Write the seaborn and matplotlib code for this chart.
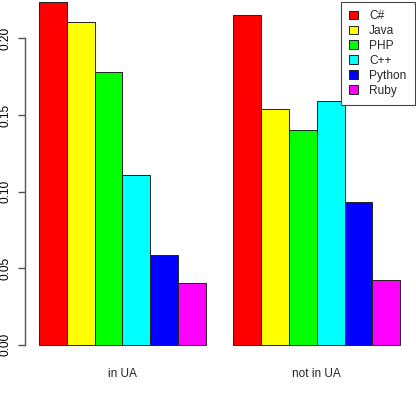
import matplotlib
matplotlib.use("Agg")
import matplotlib.pyplot as plt
import pandas as pd
import seaborn as sns

# ── Data ──────────────────────────────────────────────────────────────────────
groups    = ["in UA", "not in UA"]
languages = ["C#", "Java", "PHP", "C++", "Python", "Ruby"]
in_ua     = [0.224, 0.211, 0.178, 0.111, 0.0586, 0.0404]
not_in_ua = [0.215, 0.154, 0.1405, 0.1595, 0.0932, 0.0425]
colors    = ["#ff0000", "#ffff00", "#00ff00", "#00ffff", "#0000ff", "#ff00ff"]
y_ticks   = [0.00, 0.05, 0.10, 0.15, 0.20]

df = pd.DataFrame({
    "group":    [groups[0]] * len(languages) + [groups[1]] * len(languages),
    "language": languages * 2,
    "share":    in_ua + not_in_ua,
})

# ── Plot ──────────────────────────────────────────────────────────────────────
sns.set_style("white")
plt.rcParams["font.family"] = ["Liberation Sans", "DejaVu Sans"]

fig = plt.figure(figsize=(4.16, 3.96), dpi=100)
ax = fig.add_axes([24.6 / 416, 38 / 396, (414.5 - 24.6) / 416, (394.3 - 38) / 396])

sns.barplot(data=df, x="group", y="share", hue="language", order=groups,
            hue_order=languages, palette=colors, width=6 / 7, saturation=1,
            edgecolor="#222222", linewidth=0.7, ax=ax, legend=True)

ax.set_xlim(-0.503, 1.503)
ax.set_ylim(-0.0086, 0.224)

for s in ["top", "right", "bottom"]:
    ax.spines[s].set_visible(False)
ax.spines["left"].set_bounds(0, 0.20)
ax.spines["left"].set_color("#555555")
ax.spines["left"].set_linewidth(1.0)

ax.set_yticks(y_ticks)
ax.set_yticklabels([f"{v:.2f}" for v in y_ticks], rotation=90, va="center")
ax.tick_params(axis="y", left=True, length=5, width=1.0, color="#555555",
               pad=4.5, labelsize=8.6, labelcolor="black")
ax.tick_params(axis="x", bottom=False, length=0, pad=7, labelsize=8.6)
ax.set_xlabel("")
ax.set_ylabel("")

handles, labels = ax.get_legend_handles_labels()
leg = ax.legend(handles, labels, loc="upper right", bbox_to_anchor=(1.0, 1.0),
                borderaxespad=0, fancybox=False, fontsize=8.6,
                handlelength=0.75, handleheight=0.75, handletextpad=0.9,
                labelspacing=0.25, borderpad=0.7, framealpha=1)
leg.get_frame().set_edgecolor("#444444")
leg.get_frame().set_linewidth(0.8)

fig.savefig("out.png", dpi=100)
